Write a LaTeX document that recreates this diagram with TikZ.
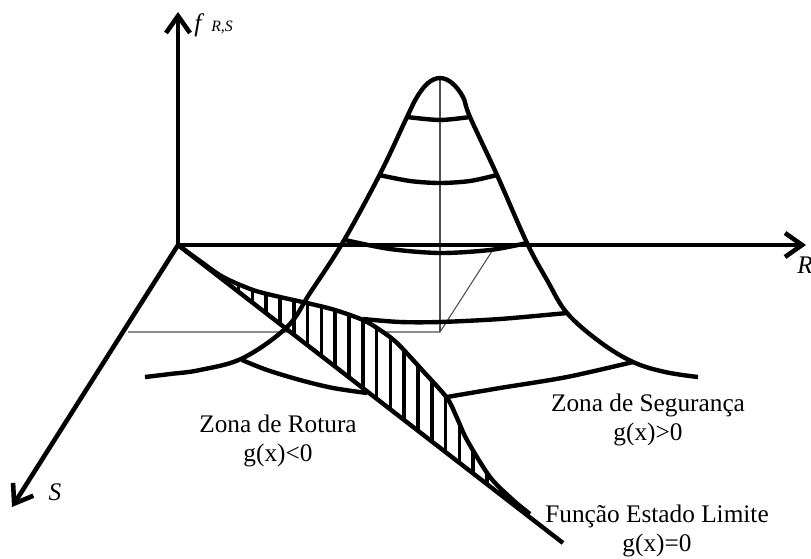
\documentclass[tikz,border=0pt]{standalone}
\usepackage{fontspec}
\setmainfont{Liberation Serif}
\usetikzlibrary{arrows.meta}

\begin{document}
\begin{tikzpicture}[x=0.02cm, y=-0.02cm, every node/.style={font=\fontsize{14.4}{16.6}\selectfont}]

    % Styles for the joint density sketch
    \tikzset{
        axis/.style={line width=2.6pt, -{Straight Barb[length=3.4mm, width=4.8mm]}},
        curve/.style={line width=2.5pt, line join=round},
        guide/.style={line width=0.6pt, black!70},
        hatchline/.style={line width=2.1pt},
        zonetext/.style={align=center, inner sep=0pt}
    }
    \useasboundingbox (0,0) rectangle (811,558);

    % Origin, axis ends and mean point
    \coordinate (O) at (178,245);
    \coordinate (Ftip) at (178,12);
    \coordinate (Rtip) at (806,245);
    \coordinate (Stip) at (12,507);
    \coordinate (peak) at (440,78);
    \coordinate (Rmean) at (496,245);
    \coordinate (Smean) at (128,332);
    \coordinate (foot) at (440,332);
    \coordinate (Lend) at (563,543);

    % Thin construction lines
    \draw[guide] (Smean) -- (foot) -- (Rmean);
    \draw[guide] (foot) -- (peak);

    % Hatched failure wedge
    \begin{scope}
        \clip plot[smooth] coordinates {(178,245) (200,261) (223,277) (253,290) (280,297) (307,303) (335,310) (363,320) (380,330) (397,343) (423,371) (447,398) (457,418) (467,440) (490,477) (513,500) (530,514)} -- (Lend) -- cycle;
        \fill[white] (O) rectangle (Lend);
        \foreach \i in {0,...,25}
            \draw[hatchline] (211+13.8*\i,240) -- (211+13.8*\i,550);
    \end{scope}
    \draw[curve] plot[smooth] coordinates {(178,245) (200,261) (223,277) (253,290) (280,297) (307,303) (335,310) (363,320) (380,330) (397,343) (423,371) (447,398) (457,418) (467,440) (490,477) (513,500) (530,514)};
    \draw[curve] (O) -- (Lend);

    % Bell outline
    \draw[curve] plot[smooth, tension=0.6] coordinates {(145,377) (170,374) (200,370) (243,358) (287,327) (310,293) (343,242) (380,174) (407,117) (417,97) (428,83) (440,78) (452,83) (463,97) (470,117) (497,175) (527,243) (547,280) (567,313) (600,342) (633,362) (665,372) (698,377)};

    % Contour lines
    \draw[curve] plot[smooth] coordinates {(407,117) (440,120) (470,117)};
    \draw[curve] plot[smooth] coordinates {(379,175) (410,181) (440,183) (470,181) (497,175)};
    \draw[curve] plot[smooth] coordinates {(345,240) (390,249) (440,253) (490,250) (527,243)};
    \draw[curve] plot[smooth] coordinates {(363,319) (400,322) (440,322) (500,319) (567,313)};
    \draw[curve] plot[smooth] coordinates {(242,360) (267,370) (300,380) (333,388) (367,393)};
    \draw[curve] plot[smooth] coordinates {(447,397) (500,388) (567,377) (633,362)};

    % Axes
    \draw[axis] (O) -- (Ftip);
    \draw[axis] (O) -- (Rtip);
    \draw[axis] (O) -- (Stip);

    % Axis labels
    \node[anchor=base west, inner sep=0pt] (flabel) at (194,31) {\textit{f}\hspace{4pt}{\fontsize{9}{10}\selectfont\textit{R,S}}};
    \node[anchor=west, inner sep=0pt] (rlabel) at (797,265) {\textit{R}};
    \node[inner sep=0pt] (slabel) at (55,492) {\textit{S}};

    % Zone texts
    \node[zonetext] (rotura) at (278,441) {Zona de Rotura\\g(x)<0};
    \node[zonetext] (seguranca) at (648,420) {Zona de Segurança\\g(x)>0};
    \node[zonetext] (limite) at (657,531) {Função Estado Limite\\g(x)=0};

\end{tikzpicture}
\end{document}
